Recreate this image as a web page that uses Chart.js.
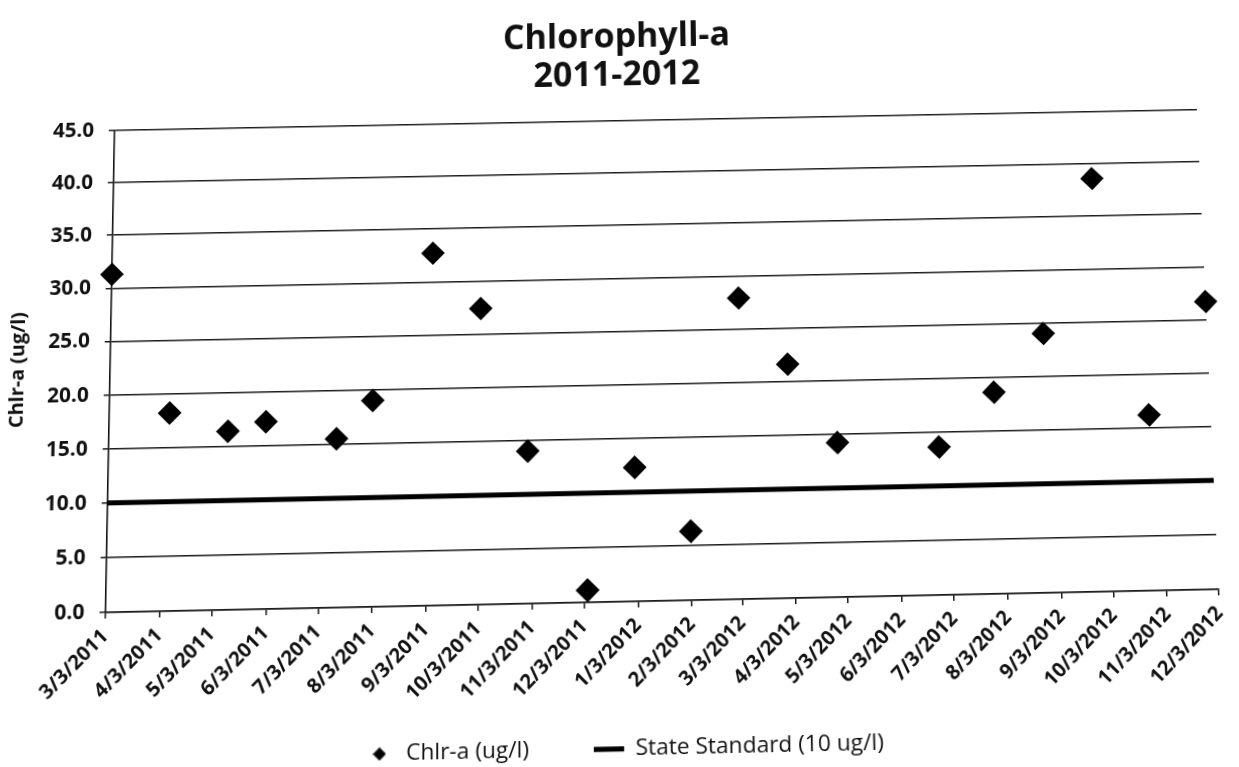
<!DOCTYPE html>
<html>
<head>
<meta charset="utf-8">
<script src="https://cdn.jsdelivr.net/npm/chart.js@4.4.1/dist/chart.umd.min.js"></script>
<style>
  html, body { margin: 0; padding: 0; background: #fff; overflow: hidden; width: 1239px; height: 767px; }
  #skew { position: absolute; left: 0; top: 0; width: 1240px; height: 777px; transform-origin: 0 0; }
  #box { position: absolute; left: 0; top: 0; width: 1240px; height: 777px; background: #fff; }
</style>
</head>
<body>
<div id="skew"><div id="box"><canvas id="c"></canvas></div></div>
<script>
// ---- data ----
const chartTitle = ['Chlorophyll-a', '2011-2012'];
const yAxisTitle = 'Chlr-a (ug/l)';
const seriesName = 'Chlr-a (ug/l)';
const standardName = 'State Standard (10 ug/l)';

const sampleDates = ['2011-03-03', '2011-04-07', '2011-05-11', '2011-06-02', '2011-07-13', '2011-08-03',
  '2011-09-07', '2011-10-05', '2011-11-01', '2011-12-05', '2012-01-02', '2012-02-03', '2012-03-04',
  '2012-04-01', '2012-04-29', '2012-06-27', '2012-07-30', '2012-08-29', '2012-09-30', '2012-10-28',
  '2012-12-03'];
const chlaValues = [31.3, 18.2, 16.4, 17.2, 15.5, 19.0, 32.7, 27.4, 14.0, 1.1, 12.3, 6.3, 27.9,
  21.6, 14.2, 13.6, 18.6, 24.0, 38.6, 16.2, 26.7];

const standardDates = ['2011-03-03', '2012-12-03'];
const standardValues = [10, 10];

const tickDates = ['2011-03-03', '2011-04-03', '2011-05-03', '2011-06-03', '2011-07-03', '2011-08-03',
  '2011-09-03', '2011-10-03', '2011-11-03', '2011-12-03', '2012-01-03', '2012-02-03', '2012-03-03',
  '2012-04-03', '2012-05-03', '2012-06-03', '2012-07-03', '2012-08-03', '2012-09-03', '2012-10-03',
  '2012-11-03', '2012-12-03'];
const tickLabels = ['3/3/2011', '4/3/2011', '5/3/2011', '6/3/2011', '7/3/2011', '8/3/2011', '9/3/2011',
  '10/3/2011', '11/3/2011', '12/3/2011', '1/3/2012', '2/3/2012', '3/3/2012', '4/3/2012', '5/3/2012',
  '6/3/2012', '7/3/2012', '8/3/2012', '9/3/2012', '10/3/2012', '11/3/2012', '12/3/2012'];
const yMin = 0, yMax = 45, yStep = 5;

// ---- page warp: the reference is a slightly skewed scan. Fit a perspective transform that maps
// the flat plot rectangle onto where the scanned gridlines lie (gridline values 45 ... 0). ----
const plotBox = { left: 106, right: 1224, top: 125, bottom: 612 };
const warpValues = [45, 40, 35, 30, 25, 20, 15, 10, 5, 0];
const warpRows = {
  leftEdge: [125, 177.3, 230, 282.7, 337.3, 392, 446.7, 501, 556, 611.7],
  at400: [126.7, 178.3, 231, 282.7, 336.7, 390.7, 444, 498.3, 553.3, 608.3],
  at820: [120.7, 172.3, 224.3, 277.3, 330, 382.7, 437.3, 489.3, 543.3, 598.3],
  rightEdge: [105.9, 158.2, 210.6, 263, 317.4, 369, 422.8, 475.8, 530.2, 585.6]
};
const edgeL = y => 115 - 9 * (y - 125) / 487;
const edgeR = y => 1204 + 22 * (y - 106) / 480;

function fitHomography(pairs) {
  const n = pairs.length;
  let msx = 0, msy = 0, mtx = 0, mty = 0;
  pairs.forEach(p => { msx += p[0]; msy += p[1]; mtx += p[2]; mty += p[3]; });
  msx /= n; msy /= n; mtx /= n; mty /= n;
  const S = 500;
  const M = Array.from({ length: 8 }, () => new Array(8).fill(0));
  const R = new Array(8).fill(0);
  const addRow = (row, rhs) => {
    for (let i = 0; i < 8; i++) { R[i] += row[i] * rhs; for (let j = 0; j < 8; j++) M[i][j] += row[i] * row[j]; }
  };
  pairs.forEach(p => {
    const x = (p[0] - msx) / S, y = (p[1] - msy) / S, X = (p[2] - mtx) / S, Y = (p[3] - mty) / S;
    addRow([x, y, 1, 0, 0, 0, -x * X, -y * X], X);
    addRow([0, 0, 0, x, y, 1, -x * Y, -y * Y], Y);
  });
  for (let c = 0; c < 8; c++) {
    let piv = c;
    for (let r = c + 1; r < 8; r++) if (Math.abs(M[r][c]) > Math.abs(M[piv][c])) piv = r;
    [M[c], M[piv]] = [M[piv], M[c]]; [R[c], R[piv]] = [R[piv], R[c]];
    for (let r = 0; r < 8; r++) {
      if (r === c) continue;
      const f = M[r][c] / M[c][c];
      for (let k = c; k < 8; k++) M[r][k] -= f * M[c][k];
      R[r] -= f * R[c];
    }
  }
  const p = R.map((v, i) => v / M[i][i]);
  const Hn = [[p[0], p[1], p[2]], [p[3], p[4], p[5]], [p[6], p[7], 1]];
  const Ts = [[1 / S, 0, -msx / S], [0, 1 / S, -msy / S], [0, 0, 1]];
  const Tti = [[S, 0, mtx], [0, S, mty], [0, 0, 1]];
  const mul = (A, B) => A.map((row, i) => B[0].map((_, j) => row.reduce((s, _v, k) => s + A[i][k] * B[k][j], 0)));
  const H = mul(Tti, mul(Hn, Ts));
  const k = H[2][2];
  return H.map(r => r.map(v => v / k));
}

(function applyWarp() {
  const pairs = [];
  warpValues.forEach((val, i) => {
    const sy = plotBox.bottom - val * (plotBox.bottom - plotBox.top) / (yMax - yMin);
    const pts = [
      [edgeL(warpRows.leftEdge[i]), warpRows.leftEdge[i], 1],
      [400, warpRows.at400[i], 2],
      [820, warpRows.at820[i], 2],
      [edgeR(warpRows.rightEdge[i]), warpRows.rightEdge[i], 1]
    ];
    pts.forEach(([tx, ty, w]) => {
      const u = (tx - edgeL(ty)) / (edgeR(ty) - edgeL(ty));
      const sx = plotBox.left + u * (plotBox.right - plotBox.left);
      for (let k = 0; k < w; k++) pairs.push([sx, sy, tx, ty]);
    });
  });
  const H = fitHomography(pairs);
  document.getElementById('skew').style.transform =
    `matrix3d(${H[0][0]},${H[1][0]},0,${H[2][0]},${H[0][1]},${H[1][1]},0,${H[2][1]},0,0,1,0,${H[0][2]},${H[1][2]},0,${H[2][2]})`;
})();

// ---- helpers ----
const origin = new Date(tickDates[0] + 'T00:00:00Z').getTime();
const dayOf = s => Math.round((new Date(s + 'T00:00:00Z').getTime() - origin) / 86400000);

const diamondIcon = document.createElement('canvas');
diamondIcon.width = 13; diamondIcon.height = 13;
(function () {
  const g = diamondIcon.getContext('2d');
  g.fillStyle = '#000';
  g.beginPath(); g.moveTo(6.5, 0); g.lineTo(13, 6.5); g.lineTo(6.5, 13); g.lineTo(0, 6.5); g.closePath(); g.fill();
})();

// let the rotated date labels run below the (short) axis box, as in the reference
const noLabelClip = {
  id: 'noLabelClip',
  beforeDraw(chart) { chart.scales.x._computeLabelArea = () => undefined; }
};

Chart.defaults.font.family = "'Open Sans', 'Noto Sans', sans-serif";
Chart.defaults.color = '#111';

new Chart(document.getElementById('c'), {
  type: 'scatter',
  plugins: [noLabelClip],
  data: {
    datasets: [
      {
        label: seriesName,
        data: sampleDates.map((d, i) => ({ x: dayOf(d), y: chlaValues[i] })),
        pointStyle: 'rectRot',
        pointRadius: 12,
        pointHoverRadius: 12,
        backgroundColor: '#000',
        borderColor: '#000',
        borderWidth: 0,
        clip: false,
        order: 1
      },
      {
        label: standardName,
        data: standardDates.map((d, i) => ({ x: dayOf(d), y: standardValues[i] })),
        showLine: true,
        borderColor: '#000',
        backgroundColor: '#000',
        borderWidth: 5,
        pointRadius: 0,
        pointHoverRadius: 0,
        fill: false,
        order: 2
      }
    ]
  },
  options: {
    responsive: true,
    maintainAspectRatio: false,
    animation: false,
    events: [],
    layout: { padding: { left: 18, right: 16, top: 0, bottom: 0 } },
    plugins: {
      tooltip: { enabled: false },
      title: {
        display: true,
        text: chartTitle,
        color: '#111',
        font: { size: 35, weight: 'bold', lineHeight: 1.143 },
        padding: { top: 18, bottom: 27 }
      },
      legend: {
        position: 'bottom',
        labels: {
          usePointStyle: true,
          pointStyleWidth: 30,
          padding: 64,
          color: '#111',
          font: { size: 22.5 },
          generateLabels: (chart) => chart.data.datasets.map((ds, i) => ({
            text: ds.label,
            datasetIndex: i,
            hidden: false,
            fillStyle: '#000',
            strokeStyle: '#000',
            lineWidth: i === 0 ? 0 : 5,
            pointStyle: i === 0 ? diamondIcon : 'line',
            fontColor: '#111'
          }))
        }
      }
    },
    scales: {
      x: {
        type: 'linear',
        min: dayOf(tickDates[0]),
        max: dayOf(tickDates[tickDates.length - 1]),
        afterBuildTicks: (scale) => { scale.ticks = tickDates.map(d => ({ value: dayOf(d) })); },
        afterFit: (scale) => { scale.height = 68.5; },
        ticks: {
          autoSkip: false,
          minRotation: 45,
          maxRotation: 45,
          padding: 6,
          color: '#111',
          font: { size: 20, weight: 'bold' },
          callback: (v, i) => tickLabels[i]
        },
        grid: { display: true, drawOnChartArea: false, drawTicks: true, tickLength: 6, color: '#1a1a1a', lineWidth: 1.5 },
        border: { display: true, color: '#1a1a1a', width: 1.6 }
      },
      y: {
        type: 'linear',
        min: yMin,
        max: yMax,
        afterFit: (scale) => { scale.width = 88; },
        ticks: {
          stepSize: yStep,
          padding: 15,
          color: '#111',
          font: { size: 21, weight: 'bold' },
          callback: (v) => Number(v).toFixed(1)
        },
        grid: { color: '#1a1a1a', lineWidth: 1.5, drawTicks: true, tickLength: 6 },
        border: { display: true, color: '#111', width: 1.6 },
        title: {
          display: true,
          text: yAxisTitle,
          color: '#111',
          font: { size: 20, weight: 'bold' },
          padding: { top: -17, bottom: 0 }
        }
      }
    }
  }
});
</script>
</body>
</html>
